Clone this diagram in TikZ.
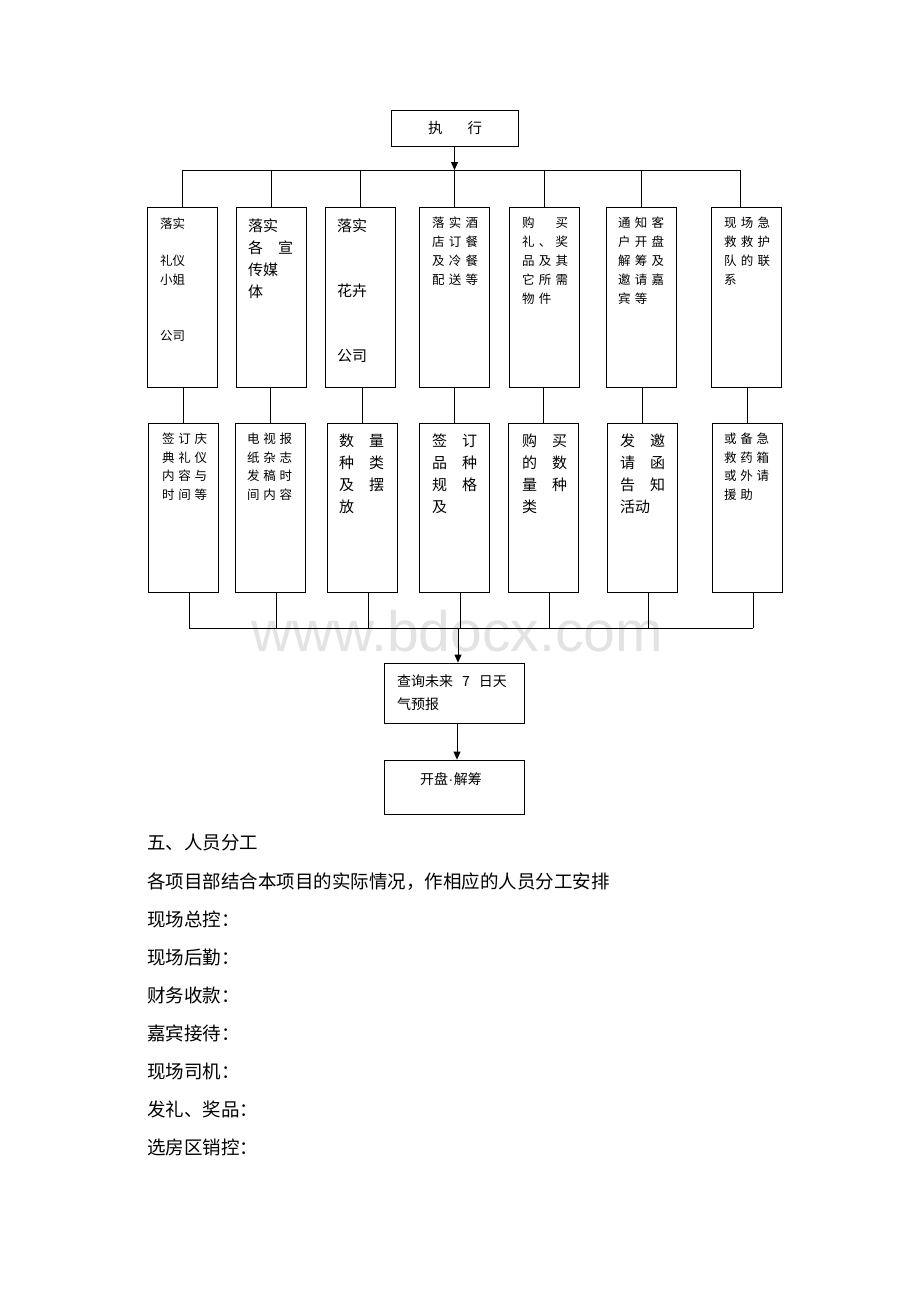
\documentclass[tikz,border=0pt]{standalone}
\usepackage{fontspec}
\newfontfamily\cjk{Noto Sans CJK SC}
\newfontfamily\wmfont{Liberation Sans}
\usetikzlibrary{arrows.meta}
\newcommand\setfs[2]{\fontsize{#1}{#2}\selectfont}
\def\LSamt{4.2pt}
\newcommand\LSp[1]{\LSq#1\relax}
\def\LSq#1{\ifx#1\relax\else#1\hspace{\LSamt}\expandafter\LSq\fi}
\tikzset{
  box/.style={draw, line width=0.8pt, inner sep=0pt},
  ln/.style={line width=0.8pt},
  arr/.style={-{Triangle[length=8pt,width=7pt]}},
  tx/.style={anchor=north west, inner sep=0pt, align=left},
  smalltx/.style={tx, font=\cjk\setfs{12.5}{18.9}\def\LSamt{4.2pt}},
  smalltxb/.style={tx, font=\cjk\setfs{12.5}{18.7}\def\LSamt{3.7pt}},
  bigtx/.style={tx, font=\cjk\setfs{15}{22}},
  bigtxb/.style={tx, font=\cjk\setfs{15}{22.3}},
  rowA/.style={box, minimum width=70pt, minimum height=180pt},
  rowB/.style={box, minimum width=70pt, minimum height=169pt},
  bodytx/.style={anchor=west, inner sep=0pt, font=\cjk\setfs{18.5}{22}},
}
\begin{document}
\begin{tikzpicture}[x=1pt,y=-1pt]
\useasboundingbox[fill=white] (0,0) rectangle (920,1302);

% watermark
\node[anchor=base, inner sep=0pt, text=black!11, font=\wmfont\setfs{57}{60}] (wmk) at (457,651) {www.bdocx.com};

% top box
\node[box, minimum width=127pt, minimum height=36pt] (top) at (454.5,128) {};
\node[inner sep=0pt, font=\cjk\setfs{14.5}{18}] (toptx) at (455,128) {执\hspace{25pt}行};

% row A boxes
\node[rowA] (a1) at (182,297) {};
\node[rowA] (a2) at (271,297) {};
\node[rowA] (a3) at (360,297) {};
\node[rowA] (a4) at (454,297) {};
\node[rowA] (a5) at (544,297) {};
\node[rowA] (a6) at (641,297) {};
\node[rowA] (a7) at (746,297) {};

\node[tx, font=\cjk\setfs{12.5}{18.8}] (a1t) at (160,217.4) {落实\\\mbox{}\\礼仪\\小姐\\\mbox{}\\\mbox{}\\公司};
\node[bigtx] (a2t) at (248,218.2) {落实\\各　宣\\传媒\\体};
\node[tx, font=\cjk\setfs{15}{21.7}] (a3t) at (337,218.2) {落实\\\mbox{}\\\mbox{}\\花卉\\\mbox{}\\\mbox{}\\公司};
\node[smalltx] (a4t) at (432,216.7) {\LSp{落实酒}\\\LSp{店订餐}\\\LSp{及冷餐}\\\LSp{配送等}};
\node[smalltx] (a5t) at (522,216.7) {\LSp{购　买}\\\LSp{礼、奖}\\\LSp{品及其}\\\LSp{它所需}\\\LSp{物件}};
\node[smalltx] (a6t) at (618,216.7) {\LSp{通知客}\\\LSp{户开盘}\\\LSp{解筹及}\\\LSp{邀请嘉}\\\LSp{宾等}};
\node[smalltx] (a7t) at (724,216.7) {\LSp{现场急}\\\LSp{救救护}\\\LSp{队的联}\\\LSp{系}};

% row B boxes
\node[rowB] (b1) at (183,507.5) {};
\node[rowB] (b2) at (270,507.5) {};
\node[rowB] (b3) at (362,507.5) {};
\node[rowB] (b4) at (454,507.5) {};
\node[rowB] (b5) at (543,507.5) {};
\node[rowB] (b6) at (642,507.5) {};
\node[rowB] (b7) at (747,507.5) {};

\node[smalltxb] (b1t) at (162,432.7) {\LSp{签订庆}\\\LSp{典礼仪}\\\LSp{内容与}\\\LSp{时间等}};
\node[smalltxb] (b2t) at (247,432.7) {\LSp{电视报}\\\LSp{纸杂志}\\\LSp{发稿时}\\\LSp{间内容}};
\node[bigtxb] (b3t) at (339,433.2) {数　量\\种　类\\及　摆\\放};
\node[bigtxb] (b4t) at (432,433.2) {签　订\\品　种\\规　格\\及};
\node[bigtxb] (b5t) at (522,433.2) {购　买\\的　数\\量　种\\类};
\node[bigtxb] (b6t) at (620,433.2) {发　邀\\请　函\\告　知\\活动};
\node[smalltxb] (b7t) at (724,432.7) {\LSp{或备急}\\\LSp{救药箱}\\\LSp{或外请}\\\LSp{援助}};

% weather box and final box
\node[box, minimum width=140pt, minimum height=60pt] (w) at (454,693) {};
\node[tx, font=\cjk\setfs{14}{22.6}] (wt) at (397,674.7) {查询未来\hspace{9pt}7\hspace{9pt}日天\\气预报};
\node[box, minimum width=140pt, minimum height=54pt] (k) at (454,787) {};
\node[inner sep=0pt, font=\cjk\setfs{14}{18}] (kt) at (451,779) {开盘{\wmfont\hspace{0.5pt}·\hspace{0.5pt}}解筹};

% connectors top
\coordinate (barT) at (455,170);
\draw[ln,arr] (top.south) -- (top.south |- barT);
\draw[ln] (a1.north |- barT) -- ([xshift=-6pt]a7.north |- barT);
\foreach \i in {1,...,6} {\draw[ln] (a\i.north |- barT) -- (a\i.north);}
\draw[ln] ([xshift=-6pt]a7.north |- barT) -- ([xshift=-6pt]a7.north);

% row A to row B
\foreach \i in {1,...,7} {\draw[ln] (b\i.north |- a\i.south) -- (b\i.north);}

% bottom bar
\coordinate (barB) at (458,628);
\foreach \i in {1,...,7} {\draw[ln] ([xshift=6pt]b\i.south) -- ([xshift=6pt]b\i.south |- barB);}
\draw[ln] ([xshift=6pt]b1.south |- barB) -- ([xshift=6pt]b7.south |- barB);
\draw[ln,arr] (barB) -- (barB |- w.north);
\draw[ln,arr] ([xshift=3pt]w.south) -- ([xshift=3pt]k.north);

% body text
\node[bodytx] (l1) at (147,843) {五、人员分工};
\node[bodytx] (l2) at (147,882) {各项目部结合本项目的实际情况，作相应的人员分工安排};
\node[bodytx] (l3) at (147,919) {现场总控：};
\node[bodytx] (l4) at (147,957) {现场后勤：};
\node[bodytx] (l5) at (147,995) {财务收款：};
\node[bodytx] (l6) at (147,1033) {嘉宾接待：};
\node[bodytx] (l7) at (147,1071) {现场司机：};
\node[bodytx] (l8) at (147,1109) {发礼、奖品：};
\node[bodytx] (l9) at (147,1147) {选房区销控：};
\end{tikzpicture}
\end{document}
